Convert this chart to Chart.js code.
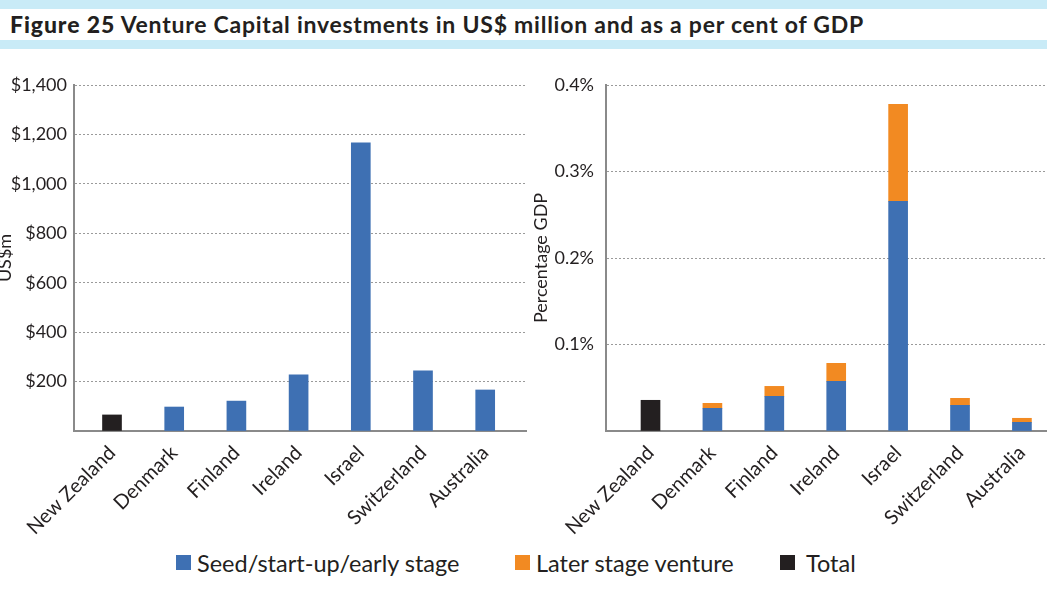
<!DOCTYPE html>
<html>
<head>
<meta charset="utf-8">
<script src="https://cdn.jsdelivr.net/npm/chart.js@4"></script>
<style>
  body { margin: 0; width: 1047px; height: 593px; overflow: hidden; background: #fff; font-family: Lato, sans-serif; color: #231f20; position: relative; }
  .band { position: absolute; left: 0; width: 1047px; height: 9px; background: #c9ebf7; }
  #title { position: absolute; left: 10px; top: 10px; font-size: 23px; line-height: 28px; font-weight: 700; white-space: nowrap; letter-spacing: 0.75px; }
  #title b { font-weight: 900; letter-spacing: 0.9px; }
  .box { position: absolute; top: 60px; height: 480px; }
  #legend { position: absolute; top: 548px; height: 30px; font-size: 23.5px; line-height: 30px; white-space: nowrap; }
  #legend div { position: absolute; top: 0; }
  #legend span.sw { position: absolute; left: 0; top: 7px; width: 15px; height: 15px; }
  #legend span.tx { position: absolute; top: 0; }
</style>
</head>
<body>
<div class="band" style="top:0"></div>
<div id="title"><b>Figure 25</b> Venture Capital investments in US$ million and as a per cent of GDP</div>
<div class="band" style="top:40px"></div>

<div class="box" style="left:-10px; width:537px;"><canvas id="usdChart"></canvas></div>
<div class="box" style="left:526px; width:521px;"><canvas id="gdpChart"></canvas></div>
<div id="legend"></div>

<script>
const countries = ['New Zealand', 'Denmark', 'Finland', 'Ireland', 'Israel', 'Switzerland', 'Australia'];

// US$ million
const usdTotal = [65, null, null, null, null, null, null];
const usdSeed = [null, 97, 121, 227, 1166, 243, 166];

// per cent of GDP
const gdpTotal = [0.0355, null, null, null, null, null, null];
const gdpSeed = [null, 0.0262, 0.0401, 0.0574, 0.2655, 0.0297, 0.0100];
const gdpLater = [null, 0.0058, 0.0115, 0.0208, 0.1121, 0.0081, 0.0047];

const seriesNames = ['Seed/start-up/early stage', 'Later stage venture', 'Total'];
const seriesColors = ['#3e70b3', '#f28a22', '#231f20'];

const usdTicks = [0, 200, 400, 600, 800, 1000, 1200, 1400];
const gdpTicks = [0, 0.1, 0.2, 0.3, 0.4];

const textColor = '#231f20';
const tickFont = { family: 'Lato', size: 18 };
const labelFont = { family: 'Lato', size: 20 };

function points(values) {
    return values.map((v, i) => ({ x: i, y: v }));
}

function makeChart(id, datasets, opts) {
    const ctx = document.getElementById(id).getContext('2d');
    return new Chart(ctx, {
        type: 'bar',
        data: { datasets: datasets },
        options: {
            responsive: true,
            maintainAspectRatio: false,
            animation: false,
            layout: { padding: { top: 25, left: 0, right: 0, bottom: 0 } },
            plugins: { legend: { display: false }, tooltip: { enabled: false } },
            datasets: { bar: { barThickness: 19 } },
            scales: {
                x: {
                    type: 'linear',
                    offset: false,
                    bounds: 'data',
                    stacked: true,
                    min: opts.xMin,
                    max: opts.xMax,
                    afterBuildTicks: s => { s.ticks = countries.map((c, i) => ({ value: i })); },
                    afterFit: s => { s.height = 109; },
                    grid: { display: false, offset: false },
                    border: { display: true, color: '#8a8a8a', width: 2 },
                    ticks: {
                        autoSkip: false,
                        maxRotation: 45,
                        minRotation: 45,
                        padding: 2,
                        color: textColor,
                        font: labelFont,
                        callback: v => countries[v]
                    }
                },
                y: {
                    stacked: true,
                    min: 0,
                    max: opts.yTicks[opts.yTicks.length - 1],
                    afterBuildTicks: s => { s.ticks = opts.yTicks.map(v => ({ value: v })); },
                    afterFit: s => { s.width = opts.yWidth; },
                    grid: { color: '#9a9a9a', lineWidth: 1, drawTicks: false },
                    border: { display: true, color: '#8a8a8a', width: 2, dash: [2, 2] },
                    ticks: {
                        padding: opts.tickPad,
                        color: textColor,
                        font: tickFont,
                        callback: opts.format
                    },
                    title: {
                        display: true,
                        text: opts.yTitle,
                        color: textColor,
                        font: tickFont,
                        padding: { top: 4, bottom: 4 }
                    }
                }
            }
        }
    });
}

makeChart('usdChart', [
    { label: seriesNames[2], data: points(usdTotal), backgroundColor: seriesColors[2] },
    { label: seriesNames[0], data: points(usdSeed), backgroundColor: seriesColors[0] }
], {
    xMin: -0.611, xMax: 6.672, yWidth: 84, tickPad: 7, yTitle: 'US$m', yTicks: usdTicks,
    format: v => v === 0 ? '' : '$' + v.toLocaleString('en-US')
});

makeChart('gdpChart', [
    { label: seriesNames[2], data: points(gdpTotal), backgroundColor: seriesColors[2] },
    { label: seriesNames[0], data: points(gdpSeed), backgroundColor: seriesColors[0] },
    { label: seriesNames[1], data: points(gdpLater), backgroundColor: seriesColors[1] }
], {
    xMin: -0.719, xMax: 6.405, yWidth: 80, tickPad: 12, yTitle: 'Percentage GDP', yTicks: gdpTicks,
    format: v => v === 0 ? '' : v.toFixed(1) + '%'
});

// legend under both charts, item positions
const legendX = [176, 515, 780];
const legend = document.getElementById('legend');
seriesNames.forEach((name, i) => {
    const item = document.createElement('div');
    item.style.left = legendX[i] + 'px';
    item.innerHTML = '<span class="sw" style="background:' + seriesColors[i] + '"></span>' +
        '<span class="tx" style="left:' + (i === 2 ? 26 : 21) + 'px">' + name + '</span>';
    legend.appendChild(item);
});
</script>
</body>
</html>
